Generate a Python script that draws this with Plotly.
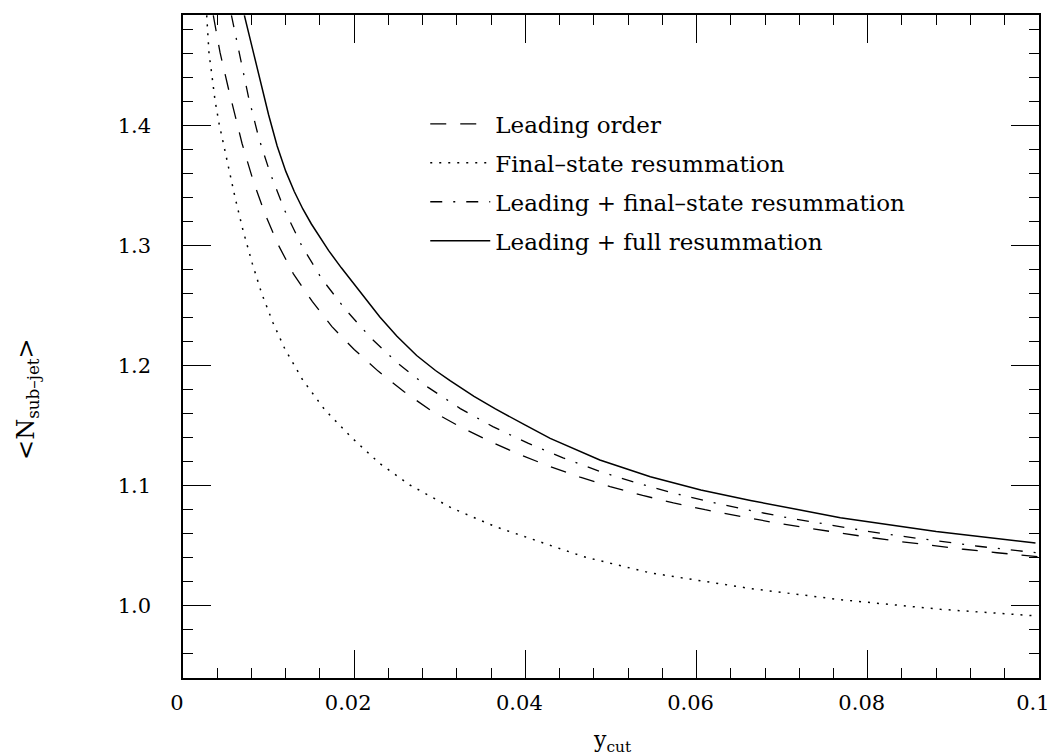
import plotly.graph_objects as go

# ---- data ----
lo_x = [0.00354, 0.00432, 0.0053, 0.0062, 0.0069, 0.0082, 0.0096, 0.0111, 0.0129, 0.0151,
        0.0174, 0.0200, 0.0228, 0.0258, 0.0290, 0.0323, 0.0357, 0.0392, 0.0427, 0.0464,
        0.0499, 0.0537, 0.0573, 0.0610, 0.0648, 0.0686, 0.0724, 0.0760, 0.0798, 0.0836,
        0.0874, 0.0912, 0.0951, 0.1000]
lo_y = [1.4917, 1.461, 1.431, 1.405, 1.385, 1.354, 1.326, 1.301, 1.2765, 1.2535,
        1.2325, 1.2135, 1.1955, 1.1785, 1.1625, 1.1495, 1.1375, 1.1265, 1.1165, 1.1072,
        1.0993, 1.0920, 1.0858, 1.0801, 1.0748, 1.0700, 1.0655, 1.0615, 1.0575, 1.0538,
        1.0503, 1.0472, 1.0443, 1.0410]

fs_x = [0.00277, 0.00289, 0.00304, 0.00335, 0.00374, 0.00421, 0.00479, 0.0053, 0.0061, 0.0070,
        0.0081, 0.0092, 0.0105, 0.0119, 0.0140, 0.0166, 0.0198, 0.0230, 0.0265, 0.0314,
        0.0365, 0.0468, 0.0546, 0.0663, 0.0768, 0.0885, 0.0994]
fs_y = [1.4917, 1.475, 1.460, 1.4434, 1.421, 1.4018, 1.382, 1.3655, 1.3395, 1.313,
        1.285, 1.260, 1.236, 1.214, 1.188, 1.163, 1.1395, 1.1185, 1.1007, 1.0815,
        1.066, 1.041, 1.0275, 1.0145, 1.0052, 0.9972, 0.9918]

lf_x = [0.00566, 0.00672, 0.00766, 0.00888, 0.0102, 0.0119, 0.0139, 0.0162, 0.0189, 0.0219,
        0.0251, 0.0286, 0.0324, 0.0362, 0.0403, 0.0444, 0.0487, 0.0531, 0.0573, 0.0616,
        0.0659, 0.0706, 0.0753, 0.0797, 0.0838, 0.0885, 0.0929, 0.0975, 0.1000]
lf_y = [1.4917, 1.455, 1.4235, 1.389, 1.360, 1.329, 1.2995, 1.2725, 1.2475, 1.2235,
        1.2020, 1.1822, 1.1643, 1.1493, 1.1355, 1.1233, 1.1120, 1.1022, 1.0940, 1.0866,
        1.0800, 1.0735, 1.0676, 1.0625, 1.0582, 1.0536, 1.0497, 1.0460, 1.0441]

full_x = [0.00717, 0.00803, 0.0090, 0.0100, 0.0110, 0.0120, 0.0130, 0.0140, 0.0150, 0.0160,
          0.0170, 0.0185, 0.0200, 0.0213, 0.0230, 0.0250, 0.0273, 0.0295, 0.0312, 0.0340,
          0.0365, 0.0400, 0.0429, 0.0487, 0.0546, 0.0605, 0.0663, 0.0768, 0.0880, 0.0996]
full_y = [1.4917, 1.467, 1.438, 1.409, 1.383, 1.362, 1.345, 1.3305, 1.318, 1.3065,
          1.2960, 1.2815, 1.2675, 1.2555, 1.2405, 1.2245, 1.2085, 1.1960, 1.1875, 1.1745,
          1.1640, 1.1505, 1.1395, 1.1215, 1.1075, 1.0965, 1.0878, 1.0735, 1.0620, 1.0524]

names = ["Leading order", "Final–state resummation",
         "Leading + final–state resummation", "Leading + full resummation"]
x_ticks = [0, 0.02, 0.04, 0.06, 0.08, 0.1]
x_tick_text = ["0", "0.02", "0.04", "0.06", "0.08", "0.1"]
y_ticks = [1.0, 1.1, 1.2, 1.3, 1.4]
y_tick_text = ["1.0", "1.1", "1.2", "1.3", "1.4"]

FONT = "DejaVu Serif"

fig = go.Figure()
series = [
    (lo_x, lo_y, names[0], "16px,14px", 1.3),
    (fs_x, fs_y, names[1], "2px,7px", 1.5),
    (lf_x, lf_y, names[2], "12px,11px,2px,11px", 1.3),
    (full_x, full_y, names[3], "solid", 1.5),
]
for i, (xs, ys, nm, dash, w) in enumerate(series):
    fig.add_trace(go.Scatter(
        x=xs, y=ys, name=nm, mode="lines", legendgroup=f"g{i}",
        line=dict(color="black", width=w, dash=dash, shape="linear"),
    ))

axis_common = dict(
    showline=True, linecolor="black", linewidth=1.5, mirror="allticks",
    ticks="inside", tickcolor="black", tickwidth=1.3, ticklen=28,
    showgrid=False, zeroline=False, ticklabeloverflow="allow", automargin=False,
    tickfont=dict(family=FONT, size=21, color="black"),
)
fig.update_xaxes(range=[0, 0.10001], tickvals=x_ticks, ticktext=x_tick_text,
                 minor=dict(ticks="inside", dtick=0.004, tick0=0, ticklen=10,
                            tickcolor="black", tickwidth=1.3, showgrid=False),
                 ticklabelstandoff=5, ticklabelshift=-6, **axis_common)
fig.update_yaxes(range=[0.94, 1.492], tickvals=y_ticks, ticktext=y_tick_text,
                 minor=dict(ticks="inside", dtick=0.02, tick0=0, ticklen=10,
                            tickcolor="black", tickwidth=1.3, showgrid=False),
                 ticklabelstandoff=26, **axis_common)

fig.add_annotation(text="y<sub>cut</sub>", xref="paper", yref="paper",
                   x=0.502, y=-0.096, xanchor="center", yanchor="middle",
                   showarrow=False, font=dict(family=FONT, size=22, color="black"))
fig.add_annotation(text="&lt;N<sub>sub–jet</sub>&gt;", xref="paper", yref="paper",
                   x=-0.181, y=0.421, xanchor="center", yanchor="middle", textangle=-90,
                   showarrow=False, font=dict(family=FONT, size=24, color="black"))

fig.update_layout(
    width=1052, height=756,
    margin=dict(l=183, r=13, t=15, b=78, autoexpand=False),
    paper_bgcolor="white", plot_bgcolor="white",
    showlegend=True,
    legend=dict(x=0.283, y=0.868, xanchor="left", yanchor="top",
                bgcolor="rgba(0,0,0,0)", borderwidth=0,
                font=dict(family=FONT, size=23, color="black"),
                itemwidth=60, traceorder="grouped", tracegroupgap=6),
)

fig.write_html("out.html")
